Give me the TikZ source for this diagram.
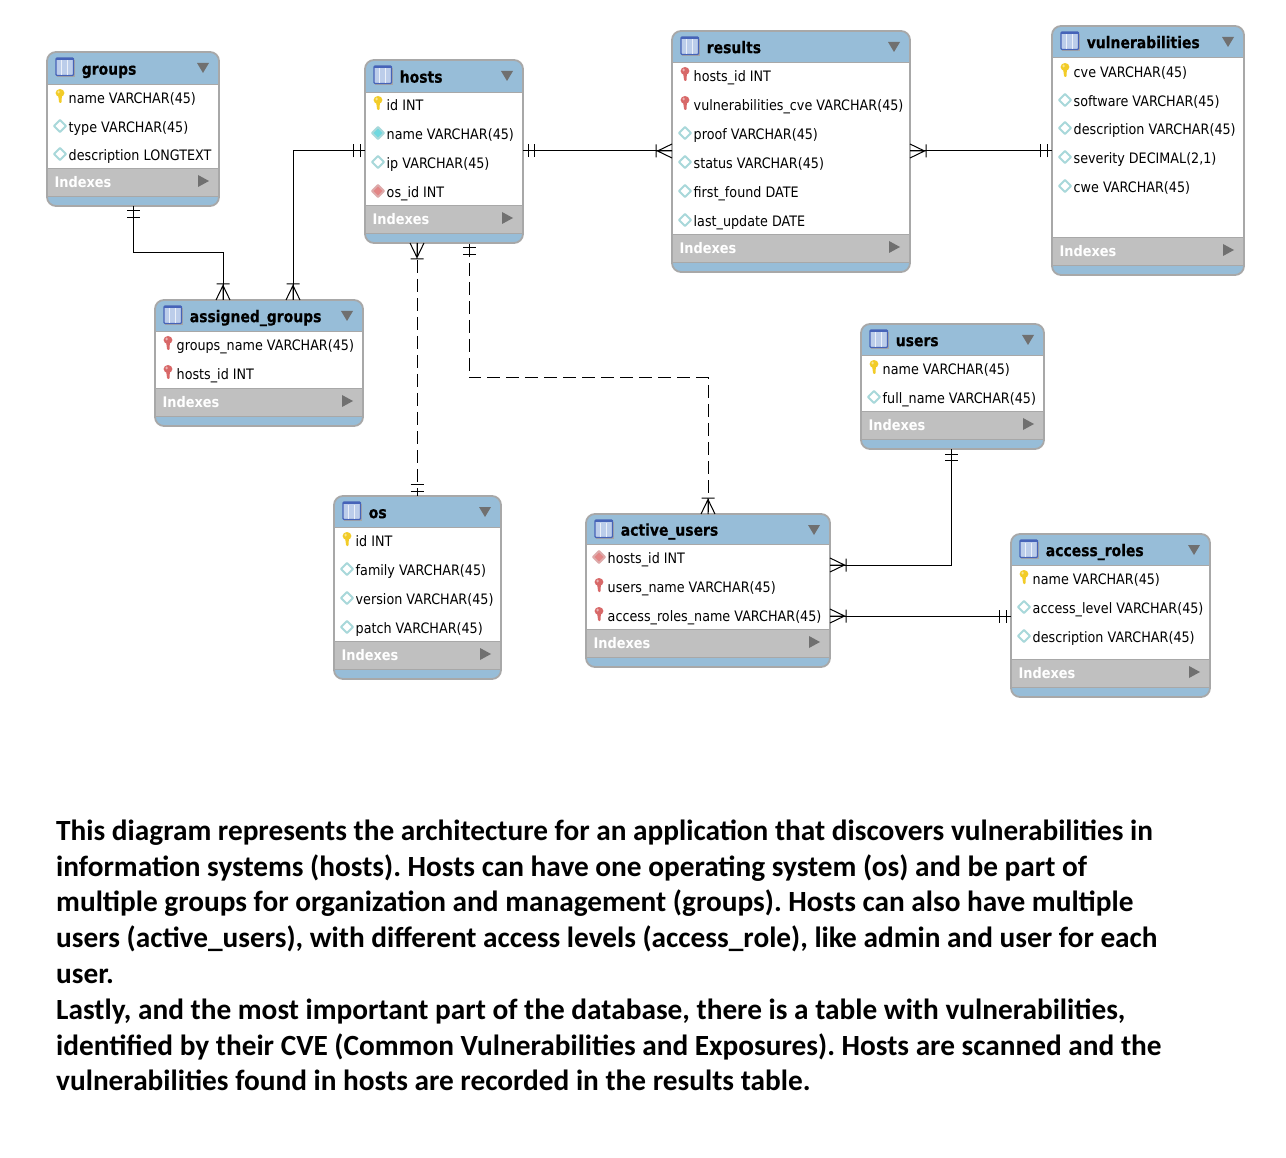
\documentclass[tikz,border=0pt]{standalone}
\usepackage{fontspec}
\setmainfont{Carlito}
\newfontfamily\tah[FakeStretch=0.885]{DejaVu Sans}
\newfontfamily\tahb[FakeStretch=0.86,FakeBold=0.4]{DejaVu Sans}
\usetikzlibrary{calc}
\definecolor{hdr}{HTML}{97BDD8}
\definecolor{edge}{HTML}{A8A8A8}
\definecolor{idx}{HTML}{C0C0C0}
\definecolor{tri}{HTML}{707070}
\definecolor{cyanf}{HTML}{6FD8DF}
\definecolor{cyane}{HTML}{A8D8DA}
\definecolor{redf}{HTML}{E38686}
\definecolor{rede}{HTML}{DDAAAA}
\definecolor{keyy}{HTML}{F2CC28}
\definecolor{keyr}{HTML}{D86868}
\definecolor{iconb}{HTML}{4663B8}
\definecolor{iconf}{HTML}{BCCDEA}
\tikzset{
 tablebox/.style={draw=edge,line width=1.8pt,rounded corners=9pt,fill=hdr,inner sep=0pt,outer sep=0pt},
 rowtext/.style={anchor=base west,inner sep=0pt,font=\tah\fontsize{14.4}{16}\selectfont,text=black},
 titletext/.style={anchor=base west,inner sep=0pt,font=\tahb\bfseries\fontsize{16.2}{18}\selectfont,text=black},
 idxtext/.style={anchor=base west,inner sep=0pt,font=\tah\bfseries\fontsize{14.6}{16}\selectfont,text=white},
 para/.style={anchor=base west,inner sep=0pt,font=\bfseries\fontsize{29.3}{32}\selectfont\frenchspacing,text=black},
 conn/.style={black,line width=1pt},
 dconn/.style={black,line width=1pt},
 markline/.style={black,line width=1pt},
}
\newcommand{\ickey}[3]{%
 \fill[#3,rounded corners=1pt] (#1-1.9,#2-3) -- (#1+1.9,#2-3) -- (#1+1.5,#2+5) -- (#1-.8,#2+5) -- cycle;
 \fill[#3] (#1,#2-5) ellipse (4.4pt and 4pt);
 \fill[white,opacity=.5] (#1-1.4,#2-6) ellipse (1.3pt and 1.5pt);
}
\newcommand{\icdiam}[4]{%
 \filldraw[fill=#3,draw=#4,line width=2pt,line join=round] (#1-6,#2-1) -- (#1,#2-7) -- (#1+6,#2-1) -- (#1,#2+5) -- cycle;
}
\newcommand{\rowicon}[3]{%
 \ifnum#3=1 \ickey{#1}{#2}{keyy}\fi
 \ifnum#3=2 \ickey{#1}{#2}{keyr}\fi
 \ifnum#3=3 \icdiam{#1}{#2}{white}{cyane}\fi
 \ifnum#3=4 \icdiam{#1}{#2}{cyanf}{cyane}\fi
 \ifnum#3=5 \icdiam{#1}{#2}{redf}{rede}\fi
}
\newcommand{\dbtable}[9]{%
 \pgfmathsetmacro{\tcx}{(#2+#4)/2}\pgfmathsetmacro{\tcy}{(#3+#5)/2}
 \pgfmathsetmacro{\twd}{#4-#2}\pgfmathsetmacro{\tht}{#5-#3}
 \node[tablebox,minimum width=\twd pt,minimum height=\tht pt] (#1) at (\tcx,\tcy) {};
 \fill[white] (#2+1,#6) rectangle (#4-1,#8);
 \fill[idx] (#2+1,#8) rectangle (#4-1,#8+28);
 \draw[edge,line width=.8pt] (#2+1,#6) -- (#4-1,#6) (#2+1,#8) -- (#4-1,#8) (#2+1,#8+28) -- (#4-1,#8+28);
 \draw[edge,line width=1.2pt] (#2,#6) -- (#2,#8+28) (#4,#6) -- (#4,#8+28);
 \fill[black!35] (#2+10,#3+8) rectangle (#2+28,#3+25);
 \filldraw[fill=iconf,draw=iconb,line width=1.3pt,rounded corners=1pt] (#2+9,#3+6) rectangle (#2+26.5,#3+23.5);
 \fill[iconb] (#2+9,#3+6) rectangle (#2+26.5,#3+8);
 \draw[white!70!iconf,line width=.8pt] (#2+14.5,#3+8.5) -- (#2+14.5,#3+23) (#2+20.5,#3+8.5) -- (#2+20.5,#3+23);
 \pgfmathsetmacro{\tb}{(#3+#6)/2+6.7}
 \node[titletext] (#1-title) at (#2+34.6,\tb) {#7};
 \fill[tri] (#4-22,#3+11) -- (#4-10,#3+11) -- (#4-16,#3+21) -- cycle;
 \node[idxtext] (#1-idx) at (#2+7.3,#8+19.5) {Indexes};
 \fill[tri] (#4-21,#8+7) -- (#4-10,#8+13) -- (#4-21,#8+19) -- cycle;
 \foreach \k/\y/\t in {#9} {
  \rowicon{#2+13}{\y}{\k}
  \node[rowtext] (#1-\y) at (#2+21.5,\y+5.6) {\t};
 }
}
\newcommand{\crow}[2]{\draw[markline,shift={(#1)},rotate=#2] (0,-7) -- (14.5,0) -- (0,7) (0,0) -- (14.5,0) (16,-6.5) -- (16,6.5);}
\newcommand{\onebar}[2]{\draw[markline,shift={(#1)},rotate=#2] (5,-6.5) -- (5,6.5) (11.5,-6.5) -- (11.5,6.5);}
\begin{document}
\begin{tikzpicture}[x=1pt,y=-1pt]
\useasboundingbox (0,0) rectangle (1286,1158);
\dbtable{groups}{47}{52}{219}{206}{84}{groups}{168}{1/98/name VARCHAR(45),3/127/type VARCHAR(45),3/155/description LONGTEXT}
\dbtable{hosts}{365}{60}{523}{243}{92}{hosts}{205}{1/105/id INT,4/134/name VARCHAR(45),3/163/ip VARCHAR(45),5/192/os\_id INT}
\dbtable{results}{672}{31}{910}{272}{62}{results}{234}{2/76/hosts\_id INT,2/105/vulnerabilities\_cve VARCHAR(45),3/134/proof VARCHAR(45),3/163/status VARCHAR(45),3/192/first\_found DATE,3/221/last\_update DATE}
\dbtable{vuln}{1052}{26}{1244}{275}{57}{vulnerabilities}{237}{1/72/cve VARCHAR(45),3/101/software VARCHAR(45),3/129/description VARCHAR(45),3/158/{severity DECIMAL(2,1)},3/187/cwe VARCHAR(45)}
\dbtable{assigned}{155}{300}{363}{426}{331}{assigned\_groups}{388}{2/345/groups\_name VARCHAR(45),2/374/hosts\_id INT}
\dbtable{users}{861}{324}{1044}{449}{355}{users}{411}{1/369/name VARCHAR(45),3/398/full\_name VARCHAR(45)}
\dbtable{os}{334}{496}{501}{679}{527}{os}{641}{1/541/id INT,3/570/family VARCHAR(45),3/599/version VARCHAR(45),3/628/patch VARCHAR(45)}
\dbtable{active}{586}{514}{830}{667}{544}{active\_users}{629}{5/558/hosts\_id INT,2/587/users\_name VARCHAR(45),2/616/access\_roles\_name VARCHAR(45)}
\dbtable{roles}{1011}{534}{1210}{697}{565}{access\_roles}{659}{1/579/name VARCHAR(45),3/608/access\_level VARCHAR(45),3/637/description VARCHAR(45)}
% connector ends on the table borders
\coordinate (gS) at ($(groups.south west)+(86,0)$);
\coordinate (aN1) at ($(assigned.north west)+(68,0)$);
\coordinate (aN2) at ($(assigned.north west)+(138,0)$);
\coordinate (hW) at ($(hosts.north west)+(0,91)$);
\coordinate (hE) at ($(hosts.north east)+(0,91)$);
\coordinate (rW) at ($(results.north west)+(0,120)$);
\coordinate (rE) at ($(results.north east)+(0,120)$);
\coordinate (vW) at ($(vuln.north west)+(0,125)$);
\coordinate (hS1) at ($(hosts.south west)+(52,0)$);
\coordinate (hS2) at ($(hosts.south west)+(104,0)$);
\coordinate (oN) at ($(os.north west)+(83,0)$);
\coordinate (acN) at ($(active.north west)+(122,0)$);
\coordinate (uS) at ($(users.south west)+(90,0)$);
\coordinate (acE1) at ($(active.north east)+(0,51)$);
\coordinate (acE2) at ($(active.north east)+(0,102)$);
\coordinate (roW) at ($(roles.north west)+(0,82)$);
\draw[conn] (gS) -- ++(0,47) -| (aN1);
\draw[conn] (hW) -| (aN2);
\draw[conn] (hE) -- (rW);
\draw[conn] (rE) -- (vW);
\draw[dconn,dash pattern=on 13pt off 6pt,dash phase=2pt] (hS1) -- (oN);
\draw[dconn,dash pattern=on 13pt off 6pt,dash phase=18pt] (hS2) -- ++(0,135) -| (acN);
\draw[conn] (uS) |- (acE1);
\draw[conn] (acE2) -- (roW);
\onebar{gS}{-90}
\crow{aN1}{90}
\onebar{hW}{180}
\crow{aN2}{90}
\onebar{hE}{0}
\crow{rW}{180}
\crow{rE}{0}
\onebar{vW}{180}
\crow{hS1}{-90}
\onebar{oN}{90}
\onebar{hS2}{-90}
\crow{acN}{90}
\onebar{uS}{-90}
\crow{acE1}{0}
\crow{acE2}{0}
\onebar{roW}{180}
% caption
\node[para] (p1) at (56,840.5) {This diagram represents the architecture for an application that discovers vulnerabilities in};
\node[para] (p2) at (56,876.5) {information systems (hosts). Hosts can have one operating system (os) and be part of};
\node[para] (p3) at (56,911.5) {multiple groups for organization and management (groups). Hosts can also have multiple};
\node[para] (p4) at (56,947.5) {users (active\_users), with different access levels (access\_role), like admin and user for each};
\node[para] (p5) at (56,983.5) {user.};
\node[para] (p6) at (56,1019.5) {Lastly, and the most important part of the database, there is a table with vulnerabilities,};
\node[para] (p7) at (56,1055.5) {identified by their CVE (Common Vulnerabilities and Exposures). Hosts are scanned and the};
\node[para] (p8) at (56,1090.5) {vulnerabilities found in hosts are recorded in the results table.};
\end{tikzpicture}
\end{document}
